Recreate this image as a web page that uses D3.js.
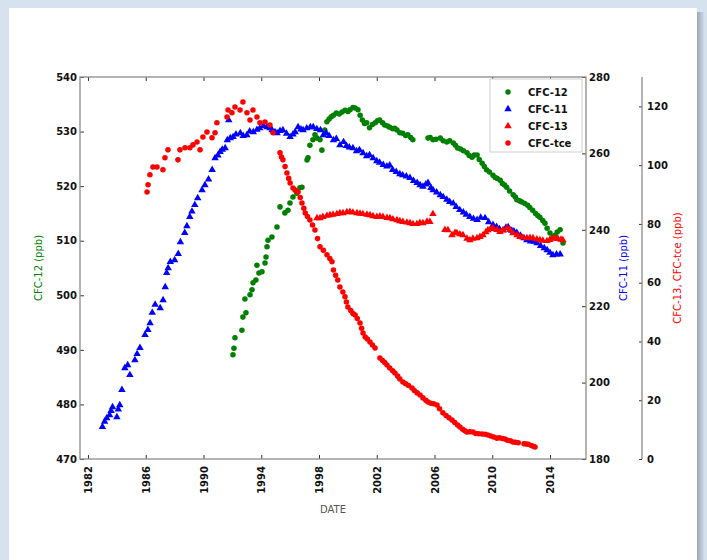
<!DOCTYPE html>
<html>
<head>
<meta charset="utf-8">
<script src="https://cdn.jsdelivr.net/npm/d3@7"></script>
<style>
html, body { margin: 0; padding: 0; background: #d6e3ef; }
svg { display: block; }
text { font-family: "DejaVu Sans", "Liberation Sans", sans-serif; }
</style>
</head>
<body>
<svg id="chart" width="707" height="560"></svg>
<script>
// Tick values for each axis
const xTicks = [1982, 1986, 1990, 1994, 1998, 2002, 2006, 2010, 2014];
const cfc12Ticks = [470, 480, 490, 500, 510, 520, 530, 540];
const cfc11Ticks = [180, 200, 220, 240, 260, 280];
const redTicks = [0, 20, 40, 60, 80, 100, 120];
const seriesNames = ["CFC-12", "CFC-11", "CFC-13", "CFC-tce"];

// CFC-12 [year, ppt]
const cfc12 = [
  [1992.04,489.1],[1992.11,490.3],[1992.18,492.2],[1992.66,493.6],[1992.73,496.0],[1992.94,496.8],
  [1992.87,499.3],[1993.22,500.1],[1993.36,501.0],[1993.43,502.3],[1993.63,502.8],[1993.84,504.1],
  [1994.05,504.3],[1993.7,505.5],[1994.26,505.9],[1994.33,507.0],[1994.4,508.9],[1994.47,510.1],
  [1994.74,510.7],[1995.09,512.5],[1995.3,516.2],[1995.64,515.1],[1995.85,515.6],[1995.99,516.9],
  [1996.2,518.0],[1996.47,518.7],[1996.68,519.7],[1996.82,519.8],[1997.17,524.8],[1997.24,525.2],
  [1997.37,527.5],[1997.58,528.5],[1997.72,529.4],[1997.86,528.8],[1998.07,528.5],[1998.2,526.6],
  [1998.4,530.3],[1998.55,531.8],[1998.7,532.3],[1998.85,532.7],[1999.0,533.0],[1999.2,533.4],
  [1999.4,533.2],[1999.6,533.6],[1999.8,533.9],[2000.0,533.7],[2000.15,534.0],[2000.35,534.4],
  [2000.5,534.3],[2000.7,534.0],[2000.85,533.0],[2001.0,532.1],[2001.15,531.5],[2001.3,531.6],
  [2001.5,530.7],[2001.7,531.3],[2001.9,531.6],[2002.05,532.0],[2002.2,532.1],[2002.4,531.6],
  [2002.55,531.2],[2002.75,531.0],[2002.9,530.8],[2003.1,530.5],[2003.25,530.6],[2003.4,530.3],
  [2003.6,529.8],[2003.8,529.7],[2004.0,529.3],[2004.15,529.4],[2004.35,528.9],[2004.5,528.5],
  [2005.55,528.8],[2005.7,528.9],[2005.9,528.5],[2006.1,528.6],[2006.4,528.8],[2006.6,528.3],
  [2006.85,528.1],[2007.05,528.3],[2007.3,527.9],[2007.45,527.5],[2007.6,527.0],[2007.8,526.8],
  [2008.0,526.5],[2008.25,526.1],[2008.4,525.6],[2008.6,525.3],[2008.75,525.7],[2008.95,525.7],
  [2009.1,524.9],[2009.3,524.2],[2009.45,523.6],[2009.6,523.0],[2009.8,522.6],[2010.05,522.0],
  [2010.2,521.6],[2010.35,521.4],[2010.55,521.1],[2010.7,520.5],[2010.85,520.2],[2011.0,519.8],
  [2011.2,519.1],[2011.45,518.4],[2011.6,518.0],[2011.7,517.5],[2011.9,517.3],[2012.05,517.1],
  [2012.25,516.8],[2012.45,516.5],[2012.6,516.1],[2012.8,515.6],[2013.0,515.0],[2013.15,514.6],
  [2013.3,514.3],[2013.5,513.7],[2013.65,513.2],[2013.8,512.3],[2014.0,511.4],[2014.2,510.7],
  [2014.35,511.0],[2014.5,511.6],[2014.7,512.0],[2014.9,509.6]
];

// CFC-11 [year, ppt]
const cfc11 = [
  [1983.0,188.4],[1983.15,189.8],[1983.3,190.7],[1983.5,191.5],[1983.6,192.6],[1983.7,193.6],
  [1984.0,191.0],[1984.1,193.0],[1984.2,194.1],[1984.35,198.1],[1984.55,203.8],[1984.75,204.6],
  [1984.9,202.0],[1985.25,205.9],[1985.4,207.5],[1985.6,209.1],[1985.95,212.5],[1986.15,213.8],
  [1986.3,215.6],[1986.45,218.3],[1986.65,220.4],[1987.0,219.5],[1987.2,221.6],[1987.35,225.0],
  [1987.45,228.7],[1987.55,230.0],[1987.7,231.6],[1988.0,232.1],[1988.25,233.7],[1988.4,236.8],
  [1988.7,239.2],[1988.85,241.0],[1989.05,243.4],[1989.2,244.8],[1989.4,246.5],[1989.6,248.3],
  [1989.9,250.4],[1990.1,251.7],[1990.35,253.2],[1990.6,255.7],[1990.8,258.8],[1991.0,259.5],
  [1991.15,260.4],[1991.3,261.0],[1991.5,261.4],[1991.65,263.5],[1991.75,268.7],[1991.85,264.0],
  [1992.05,264.3],[1992.25,265.0],[1992.55,265.3],[1992.75,264.6],[1993.0,264.8],[1993.2,265.8],
  [1993.45,265.6],[1993.7,266.2],[1993.9,266.6],[1994.15,267.2],[1994.4,266.9],[1994.6,266.6],
  [1994.75,266.1],[1994.95,265.6],[1995.1,265.3],[1995.3,265.9],[1995.5,266.1],[1995.75,265.2],
  [1996.0,264.3],[1996.2,265.0],[1996.35,265.6],[1996.55,266.9],[1996.75,266.3],[1996.9,266.1],
  [1997.15,266.6],[1997.4,266.9],[1997.6,266.9],[1997.85,266.4],[1998.1,266.1],[1998.3,264.8],
  [1998.5,265.3],[1998.7,264.6],[1999.0,263.5],[1999.2,263.8],[1999.45,262.2],[1999.7,263.0],
  [1999.9,262.0],[2000.1,261.6],[2000.35,261.4],[2000.6,260.6],[2000.8,260.9],[2001.05,260.1],
  [2001.3,259.3],[2001.5,259.6],[2001.75,258.8],[2002.0,258.0],[2002.2,257.6],[2002.45,257.0],
  [2002.7,256.6],[2002.9,256.9],[2003.1,255.7],[2003.35,255.2],[2003.6,254.6],[2003.8,254.3],
  [2004.05,254.0],[2004.3,253.6],[2004.55,252.8],[2004.8,252.3],[2005.0,251.7],[2005.2,251.3],
  [2005.4,251.9],[2005.55,252.3],[2005.75,251.0],[2005.9,250.4],[2006.15,249.8],[2006.4,249.1],
  [2006.6,248.6],[2006.85,247.9],[2007.05,247.3],[2007.3,246.9],[2007.5,246.0],[2007.75,245.2],
  [2008.0,244.6],[2008.2,244.0],[2008.45,243.4],[2008.7,242.9],[2008.95,242.6],[2009.2,243.2],
  [2009.5,243.1],[2009.75,242.0],[2010.05,241.3],[2010.3,240.8],[2010.5,240.2],[2010.75,239.9],
  [2010.95,240.6],[2011.1,240.7],[2011.35,239.8],[2011.5,239.6],[2011.7,239.2],[2011.95,238.5],
  [2012.2,237.8],[2012.4,237.3],[2012.65,237.0],[2012.9,236.9],[2013.1,236.5],[2013.35,235.8],
  [2013.6,235.2],[2013.8,234.7],[2014.0,234.0],[2014.2,233.4],[2014.45,233.6],[2014.7,233.6]
];

// CFC-13 [year, ppt]
const cfc13 = [
  [1997.86,82.0],[1998.07,82.0],[1998.27,82.4],[1998.55,82.8],[1998.76,83.0],[1998.97,83.2],
  [1999.24,83.4],[1999.45,83.7],[1999.66,83.7],[1999.93,84.0],[2000.14,84.1],[2000.35,83.9],
  [2000.63,83.7],[2000.84,83.5],[2001.04,83.4],[2001.32,83.2],[2001.53,83.0],[2001.74,82.7],
  [2002.01,82.4],[2002.22,82.6],[2002.43,82.4],[2002.71,82.1],[2002.91,82.0],[2003.12,81.6],
  [2003.4,81.3],[2003.6,81.0],[2003.81,80.7],[2004.09,80.5],[2004.3,80.3],[2004.51,80.0],
  [2004.78,80.0],[2004.99,80.4],[2005.2,80.3],[2005.48,80.8],[2005.68,80.7],[2005.89,83.4],
  [2006.72,78.0],[2006.93,77.9],[2007.21,76.2],[2007.42,77.0],[2007.55,76.9],[2007.76,76.5],
  [2007.97,76.2],[2008.25,75.0],[2008.45,74.5],[2008.66,75.0],[2008.94,75.2],[2009.15,75.6],
  [2009.36,76.2],[2009.56,77.2],[2009.7,77.9],[2009.9,78.3],[2010.05,78.6],[2010.32,78.0],
  [2010.53,77.3],[2010.74,77.8],[2011.02,78.6],[2011.22,78.0],[2011.43,76.9],[2011.71,76.2],
  [2011.92,75.6],[2012.12,75.4],[2012.4,75.2],[2012.61,75.3],[2012.82,75.2],[2013.09,74.8],
  [2013.3,74.5],[2013.5,74.3],[2013.79,74.2],[2013.99,74.6],[2014.2,75.2],[2014.41,75.0],
  [2014.55,74.9],[2014.76,74.7],[2014.89,74.5]
];

// CFC-tce [year, ppt]
const cfcTce = [
  [1986.09,90.9],[1986.16,93.3],[1986.29,96.7],[1986.5,99.4],[1986.78,99.4],[1987.19,98.4],
  [1987.33,102.5],[1987.54,105.2],[1988.23,101.8],[1988.37,105.2],[1988.72,105.9],[1989.06,105.9],
  [1989.27,106.9],[1989.55,107.9],[1989.76,105.2],[1989.96,109.6],[1990.24,111.3],[1990.59,109.3],
  [1990.8,111.0],[1990.93,114.4],[1991.63,116.4],[1991.7,118.8],[1991.97,117.8],[1992.18,119.8],
  [1992.53,118.8],[1992.73,121.5],[1993.01,117.8],[1993.22,115.4],[1993.43,118.8],[1993.7,116.4],
  [1993.91,114.4],[1994.26,114.7],[1994.6,113.7],[1994.81,111.0],
  [1995.3,104.2],[1995.4,102.8],[1995.5,101.8],[1995.65,99.5],[1995.78,97.3],[1995.9,95.5],
  [1996.0,93.9],[1996.2,92.2],[1996.35,91.5],[1996.55,90.9],[1996.7,89.0],[1996.82,87.1],
  [1996.95,85.3],[1997.05,83.7],[1997.2,82.5],[1997.37,81.3],[1997.55,79.6],[1997.72,77.9],
  [1997.9,75.0],[1998.07,72.2],[1998.3,71.0],[1998.55,69.5],[1998.75,68.2],[1998.9,67.1],
  [1999.0,64.3],[1999.15,62.5],[1999.3,60.9],[1999.45,58.5],[1999.65,56.8],[1999.8,55.2],
  [1999.9,53.4],[2000.0,51.7],[2000.2,50.5],[2000.35,49.5],[2000.5,49.0],[2000.65,47.8],
  [2000.84,46.3],[2000.95,44.5],[2001.05,42.9],[2001.2,41.5],[2001.35,40.8],[2001.53,39.8],
  [2001.7,38.8],[2001.88,37.8],
  [2002.22,34.4],[2002.4,33.5],[2002.55,32.8],[2002.71,32.0],[2002.9,31.0],[2003.1,30.0],
  [2003.26,29.3],[2003.45,28.2],[2003.6,27.2],[2003.81,26.2],[2004.0,25.6],[2004.2,25.0],
  [2004.44,24.2],[2004.6,23.3],[2004.8,22.5],[2005.0,21.8],[2005.2,20.8],[2005.4,20.0],
  [2005.55,19.4],[2005.75,19.0],[2005.95,18.8],[2006.17,18.4],[2006.35,17.1],[2006.58,15.7],
  [2006.8,14.8],[2007.0,14.0],[2007.21,13.3],[2007.4,12.4],[2007.6,11.6],[2007.76,10.9],
  [2007.95,10.1],[2008.1,9.6],[2008.25,9.2],[2008.45,9.3],[2008.66,9.2],[2008.85,8.7],
  [2009.05,8.6],[2009.29,8.5],[2009.5,8.4],[2009.7,8.2],[2009.9,7.8],[2010.1,7.5],
  [2010.32,7.1],[2010.5,7.2],[2010.7,7.0],[2010.88,6.8],[2011.05,6.4],[2011.25,6.2],
  [2011.43,5.8],[2011.6,5.7],[2011.8,5.5],
  [2012.2,5.2],[2012.35,5.1],[2012.5,5.0],[2012.7,4.6],[2012.85,4.3],[2012.96,4.1]
];

const svg = d3.select("#chart");

// page card with a soft shadow on its right edge
const defs = svg.append("defs");
const grad = defs.append("linearGradient").attr("id", "cardShadow")
  .attr("x1", "0").attr("x2", "1").attr("y1", "0").attr("y2", "0");
grad.append("stop").attr("offset", "0").attr("stop-color", "#9aa6b2");
grad.append("stop").attr("offset", "1").attr("stop-color", "#d6e3ef");
svg.append("rect").attr("x", 0).attr("y", 0).attr("width", 707).attr("height", 560).attr("fill", "#d6e3ef");
svg.append("rect").attr("x", 697).attr("y", 12).attr("width", 8).attr("height", 548).attr("fill", "url(#cardShadow)");
svg.append("rect").attr("x", 9).attr("y", 8).attr("width", 688).attr("height", 560).attr("fill", "#ffffff");

const plot = { left: 80, right: 586, top: 77, bottom: 459 };
const outerAxisX = 642;

const x = d3.scaleLinear().domain([1981.446, 2016.493]).range([plot.left, plot.right]);
const y12 = d3.scaleLinear().domain([470, 540]).range([plot.bottom, plot.top]);
const y11 = d3.scaleLinear().domain([180, 280]).range([plot.bottom, plot.top]);
const yRed = d3.scaleLinear().domain([0, 130]).range([plot.bottom, plot.top]);

const colors = { green: "#008000", blue: "#0000ff", red: "#ff0000" };
const circle = d3.symbol().type(d3.symbolCircle).size(24);
const triangle = d3.symbol().type(d3.symbolTriangle).size(24);

function styleAxis(g, labels) {
  g.select(".domain").remove();
  g.selectAll(".tick line").attr("stroke", "#333").attr("stroke-width", 1);
  g.selectAll(".tick text")
    .attr("fill", "#111")
    .style("font-size", "10px")
    .style("font-weight", "bold");
  if (!labels) g.selectAll(".tick text").remove();
}

// axes (ticks pointing inwards)
const gBottom = svg.append("g").attr("transform", `translate(0,${plot.bottom})`)
  .call(d3.axisBottom(x).tickValues(xTicks).tickFormat(d3.format("d")).tickSizeInner(-4).tickSizeOuter(0));
styleAxis(gBottom, true);
gBottom.selectAll(".tick text")
  .attr("transform", "rotate(-90)")
  .attr("x", -7).attr("y", 0).attr("dy", "0.35em")
  .style("text-anchor", "end");

const gTop = svg.append("g").attr("transform", `translate(0,${plot.top})`)
  .call(d3.axisTop(x).tickValues(xTicks).tickSizeInner(-4).tickSizeOuter(0));
styleAxis(gTop, false);

const gLeft = svg.append("g").attr("transform", `translate(${plot.left},0)`)
  .call(d3.axisLeft(y12).tickValues(cfc12Ticks).tickFormat(d3.format("d")).tickSizeInner(-4).tickSizeOuter(0).tickPadding(3));
styleAxis(gLeft, true);

const gRight = svg.append("g").attr("transform", `translate(${plot.right},0)`)
  .call(d3.axisRight(y11).tickValues(cfc11Ticks).tickFormat(d3.format("d")).tickSizeInner(-4).tickSizeOuter(0).tickPadding(3));
styleAxis(gRight, true);

const gOuter = svg.append("g").attr("transform", `translate(${outerAxisX},0)`)
  .call(d3.axisRight(yRed).tickValues(redTicks).tickFormat(d3.format("d")).tickSizeInner(-3).tickSizeOuter(0).tickPadding(5));
styleAxis(gOuter, true);

// frame and outer spine
svg.append("rect")
  .attr("x", plot.left).attr("y", plot.top)
  .attr("width", plot.right - plot.left).attr("height", plot.bottom - plot.top)
  .attr("fill", "none").attr("stroke", "#8c8c8c").attr("stroke-width", 1.3);
svg.append("line")
  .attr("x1", outerAxisX).attr("x2", outerAxisX)
  .attr("y1", plot.top).attr("y2", plot.bottom)
  .attr("stroke", "#8c8c8c").attr("stroke-width", 1.3);

// data markers
const marks = svg.append("g");
function drawSeries(data, yScale, symbol, color) {
  marks.append("g").selectAll("path").data(data).join("path")
    .attr("d", symbol)
    .attr("transform", d => `translate(${x(d[0])},${yScale(d[1])})`)
    .attr("fill", color);
}
drawSeries(cfc12, y12, circle, colors.green);
drawSeries(cfc11, y11, triangle, colors.blue);
drawSeries(cfc13, yRed, triangle, colors.red);
drawSeries(cfcTce, yRed, circle, colors.red);

// axis titles
const midY = (plot.top + plot.bottom) / 2;
function vLabel(cx, text, color) {
  svg.append("text")
    .attr("transform", `translate(${cx},${midY}) rotate(-90)`)
    .attr("text-anchor", "middle").attr("dy", "0.35em")
    .attr("fill", color).style("font-size", "10px")
    .text(text);
}
vLabel(38, "CFC-12 (ppb)", colors.green);
vLabel(623, "CFC-11 (ppb)", colors.blue);
vLabel(677, "CFC-13, CFC-tce (ppb)", colors.red);

svg.append("text")
  .attr("x", (plot.left + plot.right) / 2).attr("y", 513)
  .attr("text-anchor", "middle").attr("fill", "#555")
  .style("font-size", "10px").text("DATE");

// legend
const legend = svg.append("g");
legend.append("rect")
  .attr("x", 490).attr("y", 79).attr("width", 92).attr("height", 73)
  .attr("fill", "#fff").attr("stroke", "#cfcfcf").attr("stroke-width", 1);
const legendItems = [
  { name: seriesNames[0], color: colors.green, symbol: circle },
  { name: seriesNames[1], color: colors.blue, symbol: triangle },
  { name: seriesNames[2], color: colors.red, symbol: triangle },
  { name: seriesNames[3], color: colors.red, symbol: circle }
];
legendItems.forEach((item, i) => {
  const cy = 92 + i * 17;
  legend.append("path").attr("d", item.symbol)
    .attr("transform", `translate(508,${cy})`).attr("fill", item.color);
  legend.append("text").attr("x", 528).attr("y", cy).attr("dy", "0.35em")
    .attr("fill", "#111").style("font-size", "10px").style("font-weight", "bold")
    .text(item.name);
});
</script>
</body>
</html>
